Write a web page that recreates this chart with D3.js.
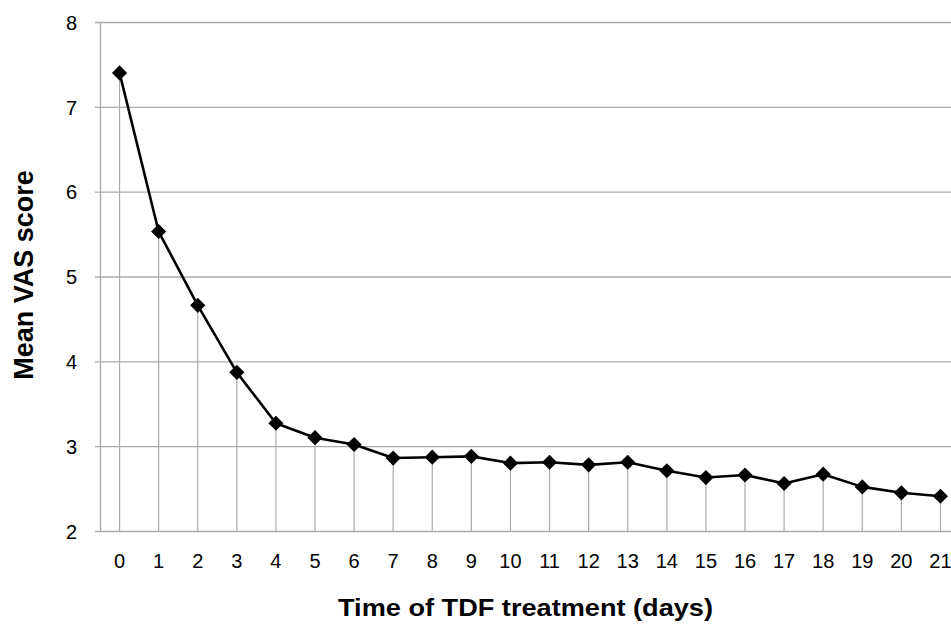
<!DOCTYPE html>
<html>
<head>
<meta charset="utf-8">
<script src="https://cdn.jsdelivr.net/npm/d3@7"></script>
<style>
  body{margin:0;background:#fff;}
  text{font-family:"Liberation Sans",Arial,sans-serif;fill:#000;}
</style>
</head>
<body>
<div id="grafico"></div>
<script>
// data
const days=[0,1,2,3,4,5,6,7,8,9,10,11,12,13,14,15,16,17,18,19,20,21];
const meanVAS=[7.40,5.53,4.66,3.87,3.27,3.10,3.02,2.86,2.87,2.88,2.80,2.81,2.78,2.81,2.71,2.63,2.66,2.56,2.67,2.52,2.45,2.41];
const yTicks=[2,3,4,5,6,7,8];

const W=951,H=624;
const plotL=100,plotR=960,plotT=22,plotB=531;

let svg=d3.select("#grafico")
  .append("svg")
    .attr("width",W)
    .attr("height",H);

//scales
let x=d3.scaleBand()
  .domain(days)
  .range([plotL,plotR]);

let y=d3.scaleLinear()
  .domain([2,8])
  .range([plotB,plotT]);

//horizontal gridlines + y tick labels
let yAxis=svg.append("g")
  .attr("transform",`translate(${plotL-5},0)`)
  .call(d3.axisLeft(y).tickValues(yTicks).tickFormat(d3.format("d")).tickSize(-(plotR-plotL+5)).tickPadding(18))
yAxis.select(".domain").remove()
yAxis.selectAll(".tick line")
  .attr("stroke","#ababab")
  .attr("stroke-width",1.4)
yAxis.selectAll(".tick text")
  .attr("font-size","20px")
  .attr("dy","0.36em")

//vertical axis line
svg.append("line")
  .attr("x1",plotL+0.5).attr("x2",plotL+0.5)
  .attr("y1",plotT).attr("y2",plotB)
  .attr("stroke","#ababab")
  .attr("stroke-width",1.4)

//x tick labels
let xAxis=svg.append("g")
  .attr("transform",`translate(0,${plotB})`)
  .call(d3.axisBottom(x).tickSize(0).tickPadding(23))
xAxis.select(".domain").remove()
xAxis.selectAll(".tick text")
  .attr("font-size","20px")

//drop lines
svg.selectAll(".drop")
  .data(days)
  .enter()
  .append("line")
    .attr("class","drop")
    .attr("x1",(d)=>x(d)+x.bandwidth()/2)
    .attr("x2",(d)=>x(d)+x.bandwidth()/2)
    .attr("y1",(d,i)=>y(meanVAS[i]))
    .attr("y2",plotB)
    .attr("stroke","#ababab")
    .attr("stroke-width",1.2)

//line
let line=d3.line()
  .x((d)=>x(d)+x.bandwidth()/2)
  .y((d,i)=>y(meanVAS[i]))

svg.append("path")
  .datum(days)
  .attr("d",line)
  .attr("fill","none")
  .attr("stroke","#000")
  .attr("stroke-width",2.6)
  .attr("stroke-linejoin","round")

//diamond markers
svg.selectAll(".pt")
  .data(days)
  .enter()
  .append("path")
    .attr("class","pt")
    .attr("d",d3.symbol(d3.symbolSquare,115))
    .attr("transform",(d,i)=>`translate(${x(d)+x.bandwidth()/2},${y(meanVAS[i])}) rotate(45)`)
    .attr("fill","#000")

//titles
svg.append("text")
  .attr("x",525.5)
  .attr("y",616)
  .attr("text-anchor","middle")
  .attr("font-size","24px")
  .attr("font-weight","bold")
  .attr("textLength",375)
  .attr("lengthAdjust","spacingAndGlyphs")
  .text("Time of TDF treatment (days)")

svg.append("text")
  .attr("transform","translate(32.5,275) rotate(-90)")
  .attr("text-anchor","middle")
  .attr("font-size","27px")
  .attr("font-weight","bold")
  .text("Mean VAS score")
</script>
</body>
</html>
